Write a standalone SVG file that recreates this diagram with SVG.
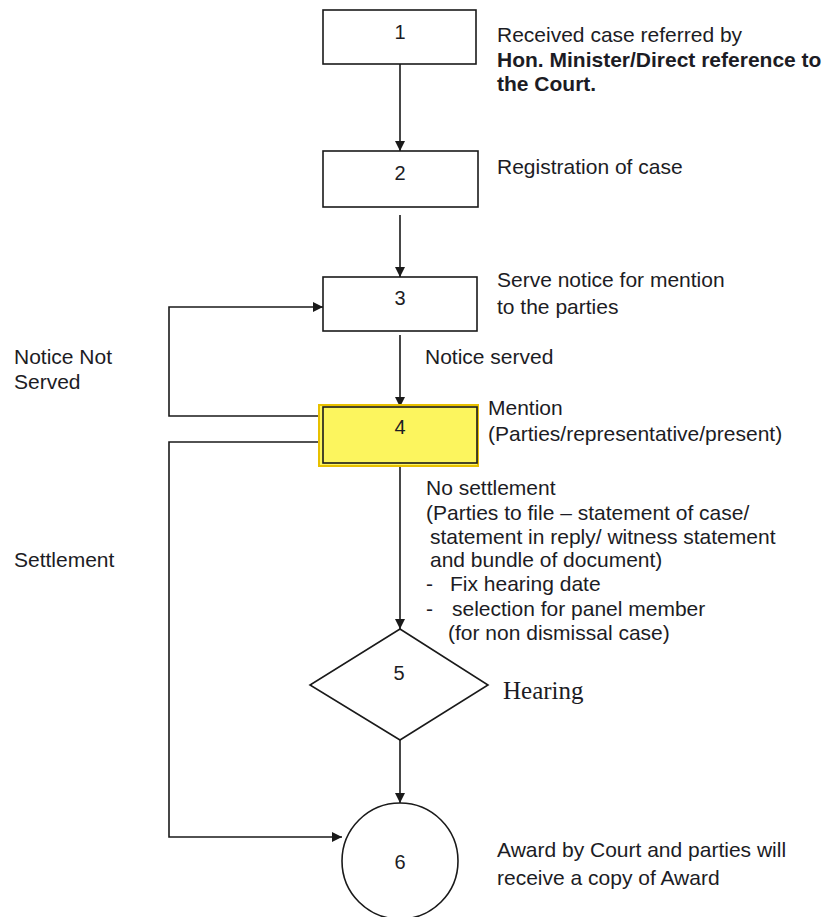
<svg xmlns="http://www.w3.org/2000/svg" width="831" height="917" viewBox="0 0 831 917">
<defs>
<style>
.t{font-family:"Liberation Sans",Arial,sans-serif;font-size:21px;fill:#1c1c24}
.b{font-weight:bold}
.n{font-family:"Liberation Sans",Arial,sans-serif;font-size:20px;fill:#1c1c24;text-anchor:middle}
.h{font-family:"Liberation Serif","Times New Roman",serif;font-size:25px;fill:#1c1c24}
.box{fill:#fff;stroke:#1a1a1a;stroke-width:1.6}
.c{fill:none;stroke:#1a1a1a;stroke-width:1.6}
</style>
<marker id="ah" viewBox="0 0 10 10" refX="10" refY="5" markerWidth="10" markerHeight="10" markerUnits="userSpaceOnUse" orient="auto">
<path d="M0,0 L10,5 L0,10 z" fill="#1a1a1a"/>
</marker>
</defs>
<rect width="831" height="917" fill="#fff"/>
<g id="connectors">
<line class="c" x1="400" y1="64" x2="400" y2="151" marker-end="url(#ah)"/>
<line class="c" x1="400" y1="215" x2="400" y2="277" marker-end="url(#ah)"/>
<line class="c" x1="400" y1="335" x2="400" y2="407" marker-end="url(#ah)"/>
<line class="c" x1="400" y1="463" x2="400" y2="629" marker-end="url(#ah)"/>
<line class="c" x1="400" y1="740" x2="400" y2="803" marker-end="url(#ah)"/>
<polyline class="c" points="323,416 169,416 169,307 323,307" marker-end="url(#ah)"/>
<polyline class="c" points="323,442 169,442 169,837 342,837" marker-end="url(#ah)"/>
</g>
<g id="node1">
<rect class="box" x="323" y="10" width="153" height="54"/>
<text class="n" x="400" y="39">1</text>
<text class="t" x="497" y="42">Received case referred by</text>
<text class="t b" x="497" y="67">Hon. Minister/Direct reference to</text>
<text class="t b" x="497" y="91">the Court.</text>
</g>
<g id="node2">
<rect class="box" x="323" y="151" width="155" height="56"/>
<text class="n" x="400" y="180">2</text>
<text class="t" x="497" y="174">Registration of case</text>
</g>
<g id="node3">
<rect class="box" x="323" y="277" width="154" height="54"/>
<text class="n" x="400" y="305">3</text>
<text class="t" x="497" y="287">Serve notice for mention</text>
<text class="t" x="497" y="314">to the parties</text>
</g>
<g id="node4">
<rect x="319" y="405" width="159" height="61" fill="#fcf55e" stroke="#e8c000" stroke-width="2"/>
<rect x="323" y="407" width="154" height="56" fill="none" stroke="#1a1a1a" stroke-width="1.6"/>
<text class="n" x="400" y="434">4</text>
<text class="t" x="488" y="415">Mention</text>
<text class="t" x="488" y="441">(Parties/representative/present)</text>
</g>
<g id="node5">
<polygon class="box" points="400,629 488,685 400,740 310,685"/>
<text class="n" x="399" y="680">5</text>
<text class="h" x="503" y="699">Hearing</text>
</g>
<g id="node6">
<ellipse class="box" cx="400" cy="861" rx="58" ry="58"/>
<text class="n" x="400" y="869">6</text>
<text class="t" x="497" y="857">Award by Court and parties will</text>
<text class="t" x="497" y="885">receive a copy of Award</text>
</g>
<g id="labels">
<text class="t" x="425" y="364">Notice served</text>
<text class="t" x="14" y="364">Notice Not</text>
<text class="t" x="14" y="389">Served</text>
<text class="t" x="14" y="567">Settlement</text>
<text class="t" x="426" y="495">No settlement</text>
<text class="t" x="426" y="520">(Parties to file – statement of case/</text>
<text class="t" x="430" y="544">statement in reply/ witness statement</text>
<text class="t" x="430" y="567">and bundle of document)</text>
<text class="t" x="426" y="591">-</text>
<text class="t" x="450" y="591">Fix hearing date</text>
<text class="t" x="426" y="616">-</text>
<text class="t" x="452" y="616">selection for panel member</text>
<text class="t" x="448" y="640">(for non dismissal case)</text>
</g>
</svg>
